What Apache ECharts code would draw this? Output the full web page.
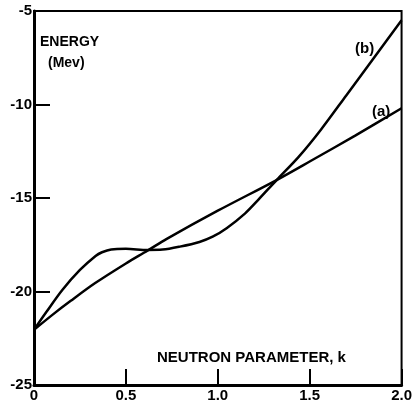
<!DOCTYPE html>
<html>
<head>
<meta charset="utf-8">
<script src="https://cdn.jsdelivr.net/npm/echarts@6/dist/echarts.min.js"></script>
<style>html,body{margin:0;padding:0;background:#fff;}#c{width:415px;height:407px;}</style>
</head>
<body>
<div id="c"></div>
<script>
// Curve (a)
const kA = [0, 0.1, 0.2, 0.333, 0.5, 0.617, 0.72, 1.0, 1.32, 1.5, 1.75, 2.0];
const eA = [-22.05, -21.25, -20.5, -19.55, -18.5, -17.82, -17.2, -15.68, -14.04, -13.05, -11.65, -10.2];
// Curve (b)
const kB = [0, 0.067, 0.154, 0.25, 0.335, 0.37, 0.42, 0.5, 0.617, 0.7, 0.794, 0.9, 0.972, 1.05, 1.149, 1.22, 1.32, 1.44, 1.56, 1.7, 1.85, 2.0];
const eB = [-22.05, -21.1, -19.92, -18.85, -18.1, -17.9, -17.75, -17.72, -17.78, -17.76, -17.6, -17.35, -17.07, -16.6, -15.82, -15.1, -14.04, -12.8, -11.36, -9.5, -7.5, -5.5];
// Tick labels
const xTicks = [0, 0.5, 1.0, 1.5, 2.0];
const xTickLabels = ['0', '0.5', '1.0', '1.5', '2.0'];
const yTicks = [-25, -20, -15, -10, -5];
const yTickLabels = ['-25', '-20', '-15', '-10', '-5'];

const chart = echarts.init(document.getElementById('c'), null, {renderer: 'canvas'});
const font = 'Liberation Sans';
const pairs = (xs, ys) => xs.map((x, i) => [x, ys[i]]);

chart.setOption({
  animation: false,
  backgroundColor: '#fff',
  grid: {left: 34, right: 5, top: 11, bottom: 22, show: true, borderColor: '#000', borderWidth: 2, containLabel: false},
  xAxis: {
    type: 'value', min: xTicks[0], max: xTicks[xTicks.length - 1], interval: 0.5,
    axisLine: {show: true, lineStyle: {color: '#000', width: 3}},
    axisTick: {show: true, inside: true, length: 16, lineStyle: {color: '#000', width: 2}},
    splitLine: {show: false},
    axisLabel: {
      color: '#000', fontFamily: font, fontWeight: 'bold', fontSize: 15, margin: 3,
      formatter: v => { const i = xTicks.findIndex(t => Math.abs(t - v) < 1e-9); return i >= 0 ? xTickLabels[i] : ''; }
    }
  },
  yAxis: {
    type: 'value', min: yTicks[0], max: yTicks[yTicks.length - 1], interval: 5,
    axisLine: {show: true, lineStyle: {color: '#000', width: 3}},
    axisTick: {show: true, inside: true, length: 16, lineStyle: {color: '#000', width: 2}},
    splitLine: {show: false},
    axisLabel: {
      color: '#000', fontFamily: font, fontWeight: 'bold', fontSize: 15, margin: 2,
      formatter: v => { const i = yTicks.findIndex(t => Math.abs(t - v) < 1e-9); return i >= 0 ? yTickLabels[i] : ''; }
    }
  },
  series: [
    {name: '(a)', type: 'line', data: pairs(kA, eA), smooth: 0.3, showSymbol: false, lineStyle: {color: '#000', width: 2.5}},
    {name: '(b)', type: 'line', data: pairs(kB, eB), smooth: 0.3, showSymbol: false, lineStyle: {color: '#000', width: 2.5}}
  ],
  graphic: [
    {type: 'text', left: 40, top: 35, style: {text: 'ENERGY', fill: '#000', font: 'bold 14px "Liberation Sans"'}},
    {type: 'text', left: 48, top: 56, style: {text: '(Mev)', fill: '#000', font: 'bold 14px "Liberation Sans"'}},
    {type: 'text', left: 157, top: 350, style: {text: 'NEUTRON PARAMETER, k', fill: '#000', font: 'bold 15px "Liberation Sans"'}},
    {type: 'text', left: 355, top: 41, style: {text: '(b)', fill: '#000', font: 'bold 15px "Liberation Sans"'}},
    {type: 'text', left: 372, top: 104, style: {text: '(a)', fill: '#000', font: 'bold 15px "Liberation Sans"'}}
  ]
});
</script>
</body>
</html>
